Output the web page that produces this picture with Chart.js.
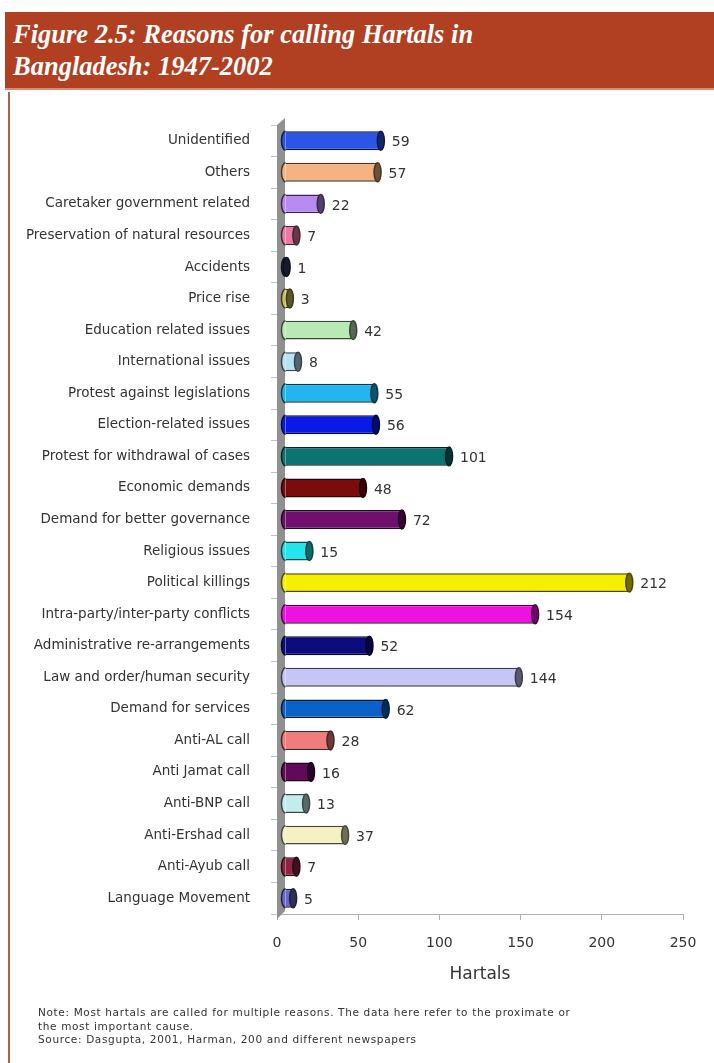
<!DOCTYPE html>
<html>
<head>
<meta charset="utf-8">
<title>Reasons for calling Hartals in Bangladesh: 1947-2002</title>
<script src="https://cdn.jsdelivr.net/npm/chart.js@4.4.1/dist/chart.umd.min.js"></script>
<style>
  html, body { margin: 0; padding: 0; background: #fff; }
  #page { position: relative; width: 714px; height: 1063px; overflow: hidden; }
  #header {
    position: absolute; left: 5px; top: 12px; right: 0; height: 78px;
    background: #b13f22;
    border-bottom: 2px solid #d98c78;
    color: #fff;
    font-family: "Liberation Serif", "DejaVu Serif", serif;
    font-style: italic; font-weight: bold;
    font-size: 26.5px; line-height: 32px;
    padding: 6px 0 0 8px; box-sizing: border-box;
  }
  #frame { position: absolute; left: 8px; top: 92px; bottom: 0; width: 2px; background: #a56652; }
  #chart { position: absolute; left: 0; top: 0; }
  #note {
    position: absolute; left: 38px; top: 1006px;
    font-family: "DejaVu Sans", sans-serif; font-size: 10.5px; line-height: 13.5px;
    letter-spacing: 0.65px;
    color: #333;
  }
</style>
</head>
<body>
<div id="page">
  <canvas id="chart" width="714" height="1063"></canvas>
  <div id="header">Figure 2.5: Reasons for calling Hartals in<br>Bangladesh: 1947-2002</div>
  <div id="frame"></div>
  <div id="note">Note: Most hartals are called for multiple reasons. The data here refer to the proximate or<br>the most important cause.<br>Source: Dasgupta, 2001, Harman, 200 and different newspapers</div>
</div>
<script>
"use strict";

const reasons = [
    'Unidentified', 'Others', 'Caretaker government related', 'Preservation of natural resources',
    'Accidents', 'Price rise', 'Education related issues', 'International issues',
    'Protest against legislations', 'Election-related issues', 'Protest for withdrawal of cases',
    'Economic demands', 'Demand for better governance', 'Religious issues', 'Political killings',
    'Intra-party/inter-party conflicts', 'Administrative re-arrangements', 'Law and order/human security',
    'Demand for services', 'Anti-AL call', 'Anti Jamat call', 'Anti-BNP call', 'Anti-Ershad call',
    'Anti-Ayub call', 'Language Movement'
];
const hartals = [59, 57, 22, 7, 1, 3, 42, 8, 55, 56, 101, 48, 72, 15, 212, 154, 52, 144, 62, 28, 16, 13, 37, 7, 5];
const barColors = [
    '#2b55e6', '#f2b482', '#b88bf0', '#e87aa5', '#2f3b5c', '#c8c060', '#b8ebb4', '#b8e2f4',
    '#22b6ee', '#0a1ae6', '#0c7470', '#7a0c0c', '#70106e', '#25e4ee', '#f6f000', '#ee12e2',
    '#0c0c7e', '#c6c6f6', '#0a62c6', '#f07c7c', '#600a58', '#c4ecee', '#f4f2c4', '#8c2442', '#6868cc'
];
const xTicks = [0, 50, 100, 150, 200, 250];

const FONT = '"DejaVu Sans", sans-serif';
const DEPTH = 8; // sideways shift of the bars in front of the back wall

function shade(hex, f) {
    const n = parseInt(hex.slice(1), 16);
    const r = Math.round(((n >> 16) & 255) * f);
    const g = Math.round(((n >> 8) & 255) * f);
    const b = Math.round((n & 255) * f);
    return `rgb(${r},${g},${b})`;
}

// gray back wall, then cylinder ends and value labels on the bars
const cylinders = {
    id: 'cylinders',
    beforeDatasetsDraw(chart) {
        const {ctx, chartArea} = chart;
        const l = chartArea.left;
        ctx.save();
        ctx.fillStyle = '#909090';
        ctx.beginPath();
        ctx.moveTo(l, chartArea.top);
        ctx.lineTo(l + DEPTH, chartArea.top - 7);
        ctx.lineTo(l + DEPTH, chartArea.bottom - 3);
        ctx.lineTo(l, chartArea.bottom + 5);
        ctx.closePath();
        ctx.fill();
        ctx.restore();
        ctx.save();
        ctx.translate(DEPTH, 0);
    },
    afterDatasetsDraw(chart) {
        const {ctx} = chart;
        const meta = chart.getDatasetMeta(0);
        meta.data.forEach((bar, i) => {
            const {x, y, base, height} = bar.getProps(['x', 'y', 'base', 'height'], true);
            const ry = height / 2;
            const c = barColors[i];
            ctx.lineWidth = 1.5;
            ctx.strokeStyle = shade(c, 0.3);
            // rounded left end
            ctx.beginPath();
            ctx.ellipse(base, y, 4, ry, 0, Math.PI / 2, Math.PI * 1.5);
            ctx.fillStyle = c;
            ctx.fill();
            ctx.stroke();
            // darker right end
            ctx.beginPath();
            ctx.ellipse(x, y, 3.5, ry, 0, 0, Math.PI * 2);
            ctx.fillStyle = shade(c, 0.45);
            ctx.fill();
            ctx.stroke();
            // value
            ctx.fillStyle = '#333';
            ctx.font = `14px ${FONT}`;
            ctx.textAlign = 'left';
            ctx.textBaseline = 'middle';
            ctx.fillText(String(hartals[i]), x + 11, y + 2);
        });
        ctx.restore();
    }
};

const ctx = document.getElementById('chart');

new Chart(ctx, {
    type: 'bar',
    data: {
        labels: reasons,
        datasets: [{
            data: hartals,
            backgroundColor: barColors,
            borderColor: barColors.map(c => shade(c, 0.3)),
            borderWidth: 1.5,
            borderSkipped: 'start',
            barPercentage: 0.6,
            categoryPercentage: 1
        }]
    },
    options: {
        indexAxis: 'y',
        responsive: false,
        devicePixelRatio: 1,
        animation: false,
        layout: {
            padding: {top: 125, right: 31, bottom: 69, left: 0}
        },
        plugins: {
            legend: {display: false},
            tooltip: {enabled: false}
        },
        scales: {
            x: {
                min: 0,
                max: 250,
                afterBuildTicks(scale) {
                    scale.ticks = xTicks.map(v => ({value: v}));
                },
                afterFit(scale) {
                    scale.height = 80;
                },
                grid: {
                    display: true,
                    drawOnChartArea: false,
                    tickLength: 6,
                    color: '#b0b0b0'
                },
                border: {display: true, color: '#b0b0b0', width: 1},
                ticks: {
                    padding: 15,
                    color: '#333',
                    font: {family: FONT, size: 14}
                },
                title: {
                    display: true,
                    text: 'Hartals',
                    color: '#333',
                    padding: {top: 0, bottom: 9},
                    font: {family: FONT, size: 17}
                }
            },
            y: {
                afterFit(scale) {
                    scale.width = 277;
                },
                grid: {
                    display: true,
                    drawOnChartArea: false,
                    tickLength: 6,
                    color: '#b9c6d3'
                },
                border: {display: false},
                ticks: {
                    padding: 21,
                    color: '#333',
                    font: {family: FONT, size: 13.5}
                }
            }
        }
    },
    plugins: [cylinders]
});
</script>
</body>
</html>
